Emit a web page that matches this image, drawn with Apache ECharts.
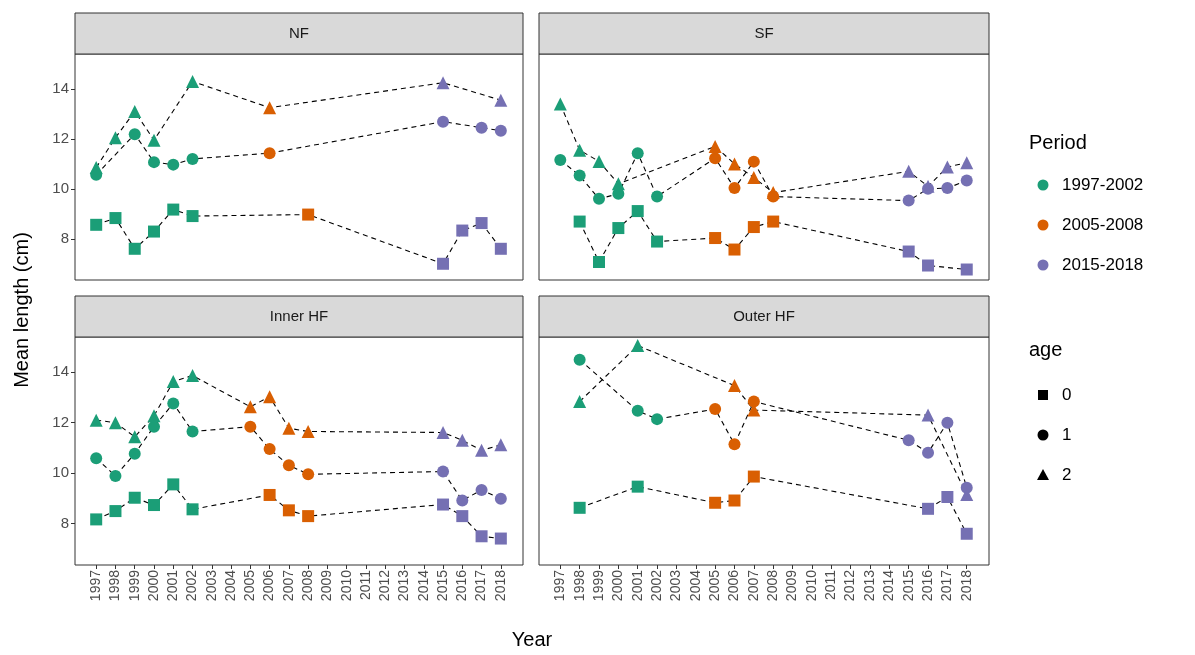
<!DOCTYPE html>
<html>
<head>
<meta charset="utf-8">
<script src="https://cdn.jsdelivr.net/npm/echarts@6.0.0/dist/echarts.min.js"></script>
<style>
  html, body { margin: 0; padding: 0; background: #fff; }
  #chart { width: 1195px; height: 655px; }
</style>
</head>
<body>
<div id="chart"></div>
<script>
// ---- data: [year, mean length] per panel and age ----
const panels = ['NF', 'SF', 'Inner HF', 'Outer HF'];
const yearTicks = [1997,1998,1999,2000,2001,2002,2003,2004,2005,2006,2007,2008,2009,2010,2011,2012,2013,2014,2015,2016,2017,2018];
const lengthTicks = [8, 10, 12, 14];
const periods = ['1997-2002', '2005-2008', '2015-2018'];
const ages = ['0', '1', '2'];

const nf0 = [[1997,8.56],[1998,8.83],[1999,7.6],[2000,8.29],[2001,9.17],[2002,8.91],[2008,8.97],[2015,7.0],[2016,8.33],[2017,8.63],[2018,7.6]];
const nf1 = [[1997,10.56],[1999,12.19],[2000,11.07],[2001,10.97],[2002,11.2],[2006,11.43],[2015,12.69],[2017,12.45],[2018,12.33]];
const nf2 = [[1997,10.85],[1998,12.05],[1999,13.1],[2000,11.95],[2002,14.3],[2006,13.25],[2015,14.25],[2018,13.55]];

const sf0 = [[1998,8.69],[1999,7.07],[2000,8.43],[2001,9.11],[2002,7.89],[2005,8.03],[2006,7.57],[2007,8.47],[2008,8.69],[2015,7.49],[2016,6.93],[2018,6.77]];
const sf1 = [[1997,11.16],[1998,10.53],[1999,9.6],[2000,9.8],[2001,11.43],[2002,9.69],[2005,11.23],[2006,10.03],[2007,11.09],[2008,9.69],[2015,9.53],[2016,10.0],[2017,10.03],[2018,10.33]];
const sf2 = [[1997,13.4],[1998,11.55],[1999,11.1],[2000,10.2],[2005,11.7],[2006,11.0],[2007,10.45],[2008,9.85],[2015,10.7],[2016,10.1],[2017,10.87],[2018,11.05]];

const ih0 = [[1997,8.16],[1998,8.49],[1999,9.02],[2000,8.73],[2001,9.55],[2002,8.56],[2006,9.13],[2007,8.52],[2008,8.29],[2015,8.75],[2016,8.29],[2017,7.49],[2018,7.4]];
const ih1 = [[1997,10.59],[1998,9.88],[1999,10.77],[2000,11.84],[2001,12.76],[2002,11.65],[2005,11.84],[2006,10.95],[2007,10.31],[2008,9.95],[2015,10.06],[2016,8.91],[2017,9.33],[2018,8.98]];
const ih2 = [[1997,12.1],[1998,12.0],[1999,11.44],[2000,12.27],[2001,13.63],[2002,13.87],[2005,12.63],[2006,13.03],[2007,11.78],[2008,11.65],[2015,11.61],[2016,11.3],[2017,10.9],[2018,11.12]];

const oh0 = [[1998,8.62],[2001,9.46],[2005,8.82],[2006,8.91],[2007,9.86],[2016,8.58],[2017,9.05],[2018,7.59]];
const oh1 = [[1998,14.5],[2001,12.47],[2002,12.14],[2005,12.54],[2006,11.14],[2007,12.84],[2015,11.3],[2016,10.81],[2017,12.0],[2018,9.42]];
const oh2 = [[1998,12.84],[2001,15.06],[2006,13.47],[2007,12.5],[2016,12.3],[2018,9.15]];

const panelData = [[nf0, nf1, nf2], [sf0, sf1, sf2], [ih0, ih1, ih2], [oh0, oh1, oh2]];

const periodColors = ['#1b9e77', '#d95f02', '#7570b3'];
const ageSymbols = ['rect', 'circle', 'triangle'];
const ageSizes = [12, 12, 13];

function periodIndex(year) {
  if (year <= 2002) return 0;
  if (year <= 2008) return 1;
  return 2;
}

const gridBoxes = [
  { left: 75, top: 54, width: 448, height: 226 },
  { left: 539, top: 54, width: 450, height: 226 },
  { left: 75, top: 337, width: 448, height: 228 },
  { left: 539, top: 337, width: 450, height: 228 }
];

const FONT = 'Liberation Sans, Arial';
const tickText = { color: '#4d4d4d', fontFamily: FONT, fontSize: 14 };

const grids = gridBoxes.map(b => ({ ...b, show: true, borderColor: '#333', borderWidth: 1, backgroundColor: '#fff' }));

const xAxes = gridBoxes.map((b, i) => ({
  type: 'value', gridIndex: i, min: 1995.9, max: 2019.15,
  axisLine: { show: false }, splitLine: { show: false },
  axisTick: { show: i >= 2, length: 4, lineStyle: { color: '#333' }, customValues: yearTicks },
  axisLabel: { show: i >= 2, rotate: 90, margin: 5, customValues: yearTicks, formatter: v => String(v), ...tickText }
}));

const yAxes = gridBoxes.map((b, i) => ({
  type: 'value', gridIndex: i, min: 6.35, max: 15.4,
  axisLine: { show: false }, splitLine: { show: false },
  axisTick: { show: i % 2 === 0, length: 4, lineStyle: { color: '#333' }, customValues: lengthTicks },
  axisLabel: { show: i % 2 === 0, margin: 6, customValues: lengthTicks, ...tickText, fontSize: 15 }
}));

const series = [];
panelData.forEach((byAge, p) => {
  byAge.forEach((pts, a) => {
    series.push({
      type: 'line', xAxisIndex: p, yAxisIndex: p,
      symbol: ageSymbols[a], symbolSize: ageSizes[a],
      lineStyle: { color: '#000', width: 1.1, type: [5, 4] },
      z: 3,
      data: pts.map(([x, y]) => ({
        value: [x, y],
        itemStyle: { color: periodColors[periodIndex(x)] }
      }))
    });
  });
});

function label(x, y, text, size, align, rotation) {
  return {
    type: 'text', x: x, y: y, rotation: rotation || 0,
    style: { text: text, fill: '#000', font: size + 'px ' + FONT, align: align || 'left', verticalAlign: 'middle' }
  };
}

const graphics = [];
gridBoxes.forEach((b, i) => {
  const stripTop = i < 2 ? 13 : 296;
  const h = b.top - stripTop;
  graphics.push({
    type: 'rect', x: b.left, y: stripTop,
    shape: { width: b.width, height: h },
    style: { fill: '#d9d9d9', stroke: '#333', lineWidth: 1 }
  });
  const t = label(b.left + b.width / 2, stripTop + h / 2, panels[i], 15, 'center');
  t.style.fill = '#1a1a1a';
  graphics.push(t);
});

graphics.push(label(1029, 143, 'Period', 20));
periods.forEach((t, k) => {
  const y = 185 + k * 40;
  graphics.push({ type: 'circle', shape: { cx: 1043, cy: y, r: 5.5 }, style: { fill: periodColors[k] } });
  graphics.push(label(1062, y, t, 17));
});
graphics.push(label(1029, 350, 'age', 20));
ages.forEach((t, k) => {
  const y = 395 + k * 40;
  if (k === 0) graphics.push({ type: 'rect', shape: { x: 1038, y: y - 5, width: 10, height: 10 }, style: { fill: '#000' } });
  if (k === 1) graphics.push({ type: 'circle', shape: { cx: 1043, cy: y, r: 5.5 }, style: { fill: '#000' } });
  if (k === 2) graphics.push({ type: 'polygon', shape: { points: [[1043, y - 6], [1049, y + 5], [1037, y + 5]] }, style: { fill: '#000' } });
  graphics.push(label(1062, y, t, 17));
});
graphics.push(label(532, 640, 'Year', 20, 'center'));
graphics.push(label(22, 310, 'Mean length (cm)', 20, 'center', Math.PI / 2));

const chart = echarts.init(document.getElementById('chart'), null, { renderer: 'canvas' });
chart.setOption({
  animation: false,
  backgroundColor: '#fff',
  grid: grids,
  xAxis: xAxes,
  yAxis: yAxes,
  series: series,
  graphic: graphics
});
</script>
</body>
</html>
